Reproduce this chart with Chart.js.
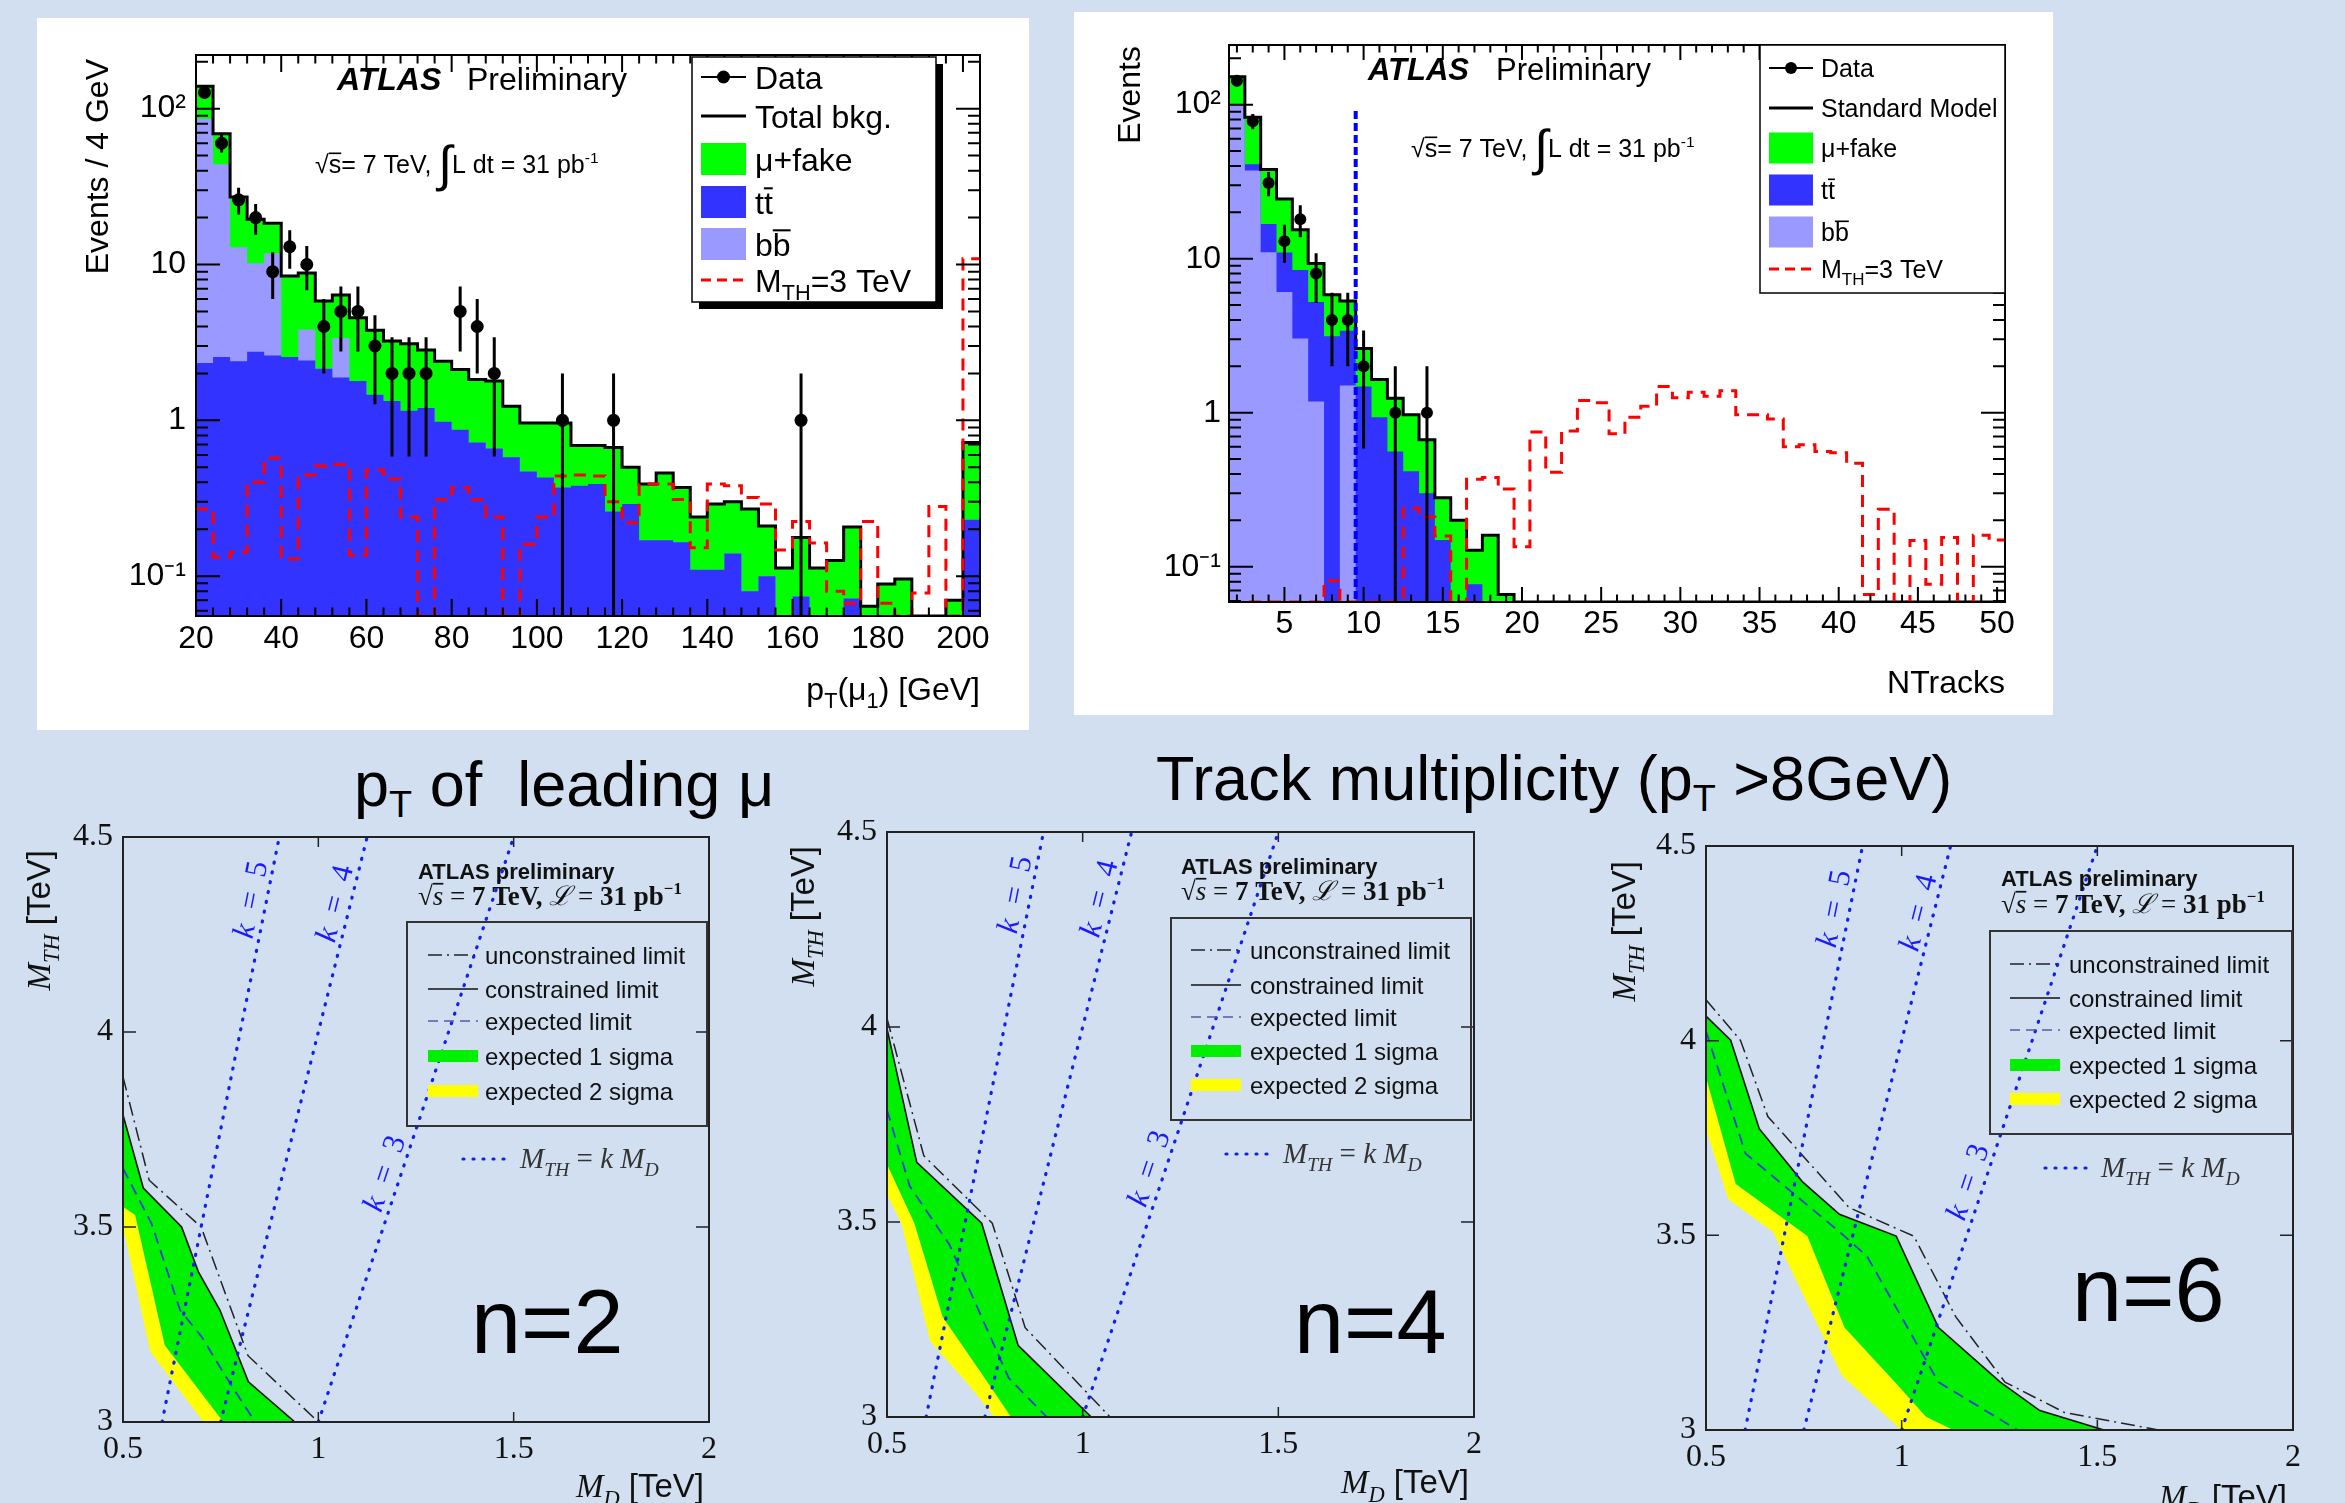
<!DOCTYPE html>
<html>
<head>
<meta charset="utf-8">
<script src="https://cdn.jsdelivr.net/npm/chart.js@4.4.1/dist/chart.umd.min.js"></script>
<style>
  html, body { margin: 0; padding: 0; }
  body { width: 2345px; height: 1503px; background: #d1dff0; position: relative; overflow: hidden;
         font-family: 'Liberation Sans', Arial, sans-serif; }
  canvas { position: absolute; }
  .white { background: #fff; }
  .ttl { position: absolute; line-height: 1; white-space: pre; color: #000; }
  .ttl sub { font-size: 0.6em; position: relative; top: 0.3em; vertical-align: baseline; line-height: 0; }
</style>
</head>
<body>
<canvas id="ptChart" class="white" width="992" height="712" style="left:37px;top:18px"></canvas>
<canvas id="ntrkChart" class="white" width="979" height="703" style="left:1074px;top:12px"></canvas>
<div class="ttl" style="left:354px;top:753px;font-size:63px">p<sub>T</sub> of&nbsp; leading μ</div>
<div class="ttl" style="left:1156px;top:747px;font-size:63px">Track multiplicity (p<sub>T</sub> &gt;8GeV)</div>
<canvas id="limN2" width="780" height="683" style="left:0px;top:820px"></canvas>
<canvas id="limN4" width="740" height="683" style="left:780px;top:820px"></canvas>
<canvas id="limN6" width="775" height="683" style="left:1570px;top:820px"></canvas>
<script>
const SANS = "'Liberation Sans', Arial, sans-serif";
const SERIF = "'Liberation Serif', 'DejaVu Serif', serif";
Chart.defaults.font.family = SANS;
Chart.defaults.color = '#000';

// ---- leading muon pT: 4 GeV bins from 20 GeV, last bin is the overflow
const ptLow = 20, ptBinWidth = 4;
const ptAxisMin = 20, ptAxisMax = 204, ptEventsMin = 0.0555, ptEventsMax = 221;
const ptTicks = [20, 40, 60, 80, 100, 120, 140, 160, 180, 200];
const ptData = [127, 60, 26, 20, 9, 13, 10, 4, 5, 5, 3, 2, 2, 2, 0, 5, 4, 2, 0, 0,
  0, 1, 0, 0, 1, 0, 0, 0, 0, 0, 0, 0, 0, 0, 0, 1, 0, 0, 0, 0, 0, 0, 0, 0, 0, 0];
const ptTtbar = [2.33, 2.55, 2.39, 2.75, 2.61, 2.55, 2.42, 2.14, 1.88, 1.79,
  1.46, 1.33, 1.15, 1.2, 0.98, 0.87, 0.72, 0.66, 0.58, 0.47,
  0.43, 0.37, 0.38, 0.39, 0.26, 0.29, 0.17, 0.17, 0.165, 0.11,
  0.11, 0.14, 0.08, 0.10, 0, 0.074, 0, 0, 0.072, 0,
  0, 0, 0, 0, 0, 0.23];
const ptBbbar = [83.7, 41.5, 10.5, 7.45, 9.2, 0, 1.41, 0, 1.49, 0,
  0, 0, 0, 0, 0, 0, 0, 0, 0, 0, 0, 0, 0, 0, 0, 0, 0, 0, 0, 0,
  0, 0, 0, 0, 0, 0, 0, 0, 0, 0, 0, 0, 0, 0, 0, 0];
const ptFake = [53, 25, 14.2, 9.3, 6.6, 5.9, 5.0, 3.7, 3.0, 2.76,
  2.32, 1.9, 1.95, 1.63, 1.41, 1.25, 1.11, 1.13, 0.65, 0.49,
  0.53, 0.59, 0.31, 0.30, 0.41, 0.21, 0.22, 0.29, 0.205, 0.13,
  0.18, 0.16, 0.19, 0.11, 0.113, 0.103, 0.113, 0.126, 0.135, 0.064,
  0.089, 0.096, 0, 0, 0.07, 0.49];
const ptSignal = [0.27, 0.132, 0.143, 0.40, 0.57, 0.129, 0.445, 0.51, 0.52, 0.136,
  0.48, 0.42, 0.24, 0, 0.31, 0.37, 0.31, 0.24, 0, 0.16,
  0.24, 0.44, 0.445, 0.44, 0.30, 0.22, 0.39, 0.39, 0.31, 0.152,
  0.39, 0.38, 0.32, 0.29, 0.147, 0.224, 0.163, 0.08, 0.067, 0.224,
  0.067, 0, 0.078, 0.28, 0, 10.9];

// ---- track multiplicity: unit bins for NTracks = 2..50
const ntLow = 1.5, ntBinWidth = 1;
const ntAxisMin = 1.5, ntAxisMax = 50.5, ntEventsMin = 0.059, ntEventsMax = 244;
const ntTicks = [5, 10, 15, 20, 25, 30, 35, 40, 45, 50];
const ntData = [143, 78, 31, 13, 18, 8, 4, 4, 2, 0, 1, 0, 1,
  0, 0, 0, 0, 0, 0, 0, 0, 0, 0, 0, 0, 0, 0, 0, 0, 0, 0, 0, 0, 0, 0, 0, 0, 0, 0, 0, 0, 0, 0, 0, 0, 0, 0, 0, 0];
const ntBbbar = [98, 37.4, 11.0, 6.07, 3.03, 1.18, 0, 1.50,
  0, 0, 0, 0, 0, 0, 0, 0, 0, 0, 0, 0, 0, 0, 0, 0, 0, 0, 0, 0, 0, 0, 0, 0, 0, 0, 0, 0, 0, 0, 0, 0, 0, 0, 0, 0, 0, 0, 0, 0, 0];
const ntTtbar = [0, 3.6, 5.8, 4.9, 5.4, 4.06, 3.13, 1.9, 1.48, 0.935, 0.56, 0.416, 0.30, 0.149, 0, 0.077,
  0, 0, 0, 0, 0, 0, 0, 0, 0, 0, 0, 0, 0, 0, 0, 0, 0, 0, 0, 0, 0, 0, 0, 0, 0, 0, 0, 0, 0, 0, 0, 0, 0];
const ntFake = [54, 42, 21.2, 13.4, 7.0, 4.06, 2.71, 1.91, 1.13, 0.705, 0.68, 0.554, 0.367, 0.131, 0.20, 0.051, 0.16, 0.066,
  0, 0, 0, 0, 0, 0, 0, 0, 0, 0, 0, 0, 0, 0, 0, 0, 0, 0, 0, 0, 0, 0, 0, 0, 0, 0, 0, 0, 0, 0, 0];
const ntSignal = [0, 0, 0, 0, 0, 0, 0.081, 0, 0, 0, 0, 0.24, 0.21, 0.158, 0,
  0.37, 0.38, 0.32, 0.135, 0.75, 0.41, 0.76, 1.2, 1.16, 0.73,
  0.935, 1.10, 1.48, 1.25, 1.36, 1.28, 1.39, 0.97, 0.97, 0.91,
  0.60, 0.62, 0.56, 0.55, 0.47, 0.066, 0.236, 0, 0.148, 0.077,
  0.155, 0, 0.16, 0.149];
const ntCut = 9.5, ntCutTop = 91;

const eventTicks = [0.1, 1, 10, 100];
const eventLabels = { 0.1: '10⁻¹', 1: '1', 10: '10', 100: '10²' };

// ---- limits in the (M_D, M_TH) plane, points are [M_D, M_TH] in TeV
const mdMin = 0.5, mdMax = 2, mthMin = 3, mthMax = 4.5;
const mdTicks = [0.5, 1, 1.5, 2], mthTicks = [3, 3.5, 4, 4.5];
const kValues = [5, 4, 3];

const n2Unconstrained = [[0.5, 3.885], [0.567, 3.62], [0.70, 3.50], [0.82, 3.17], [1.0, 3.0]];
const n2Constrained = [[0.5, 3.787], [0.552, 3.60], [0.65, 3.50], [0.693, 3.385], [0.748, 3.287], [0.821, 3.103], [0.94, 3.0]];
const n2Expected = [[0.5, 3.65], [0.573, 3.509], [0.646, 3.287], [0.701, 3.219], [0.761, 3.12], [0.838, 3.0]];
const n2Minus1 = [[0.5, 3.552], [0.531, 3.531], [0.607, 3.197], [0.757, 3.0]];
const n2Minus2 = [[0.5, 3.50], [0.57, 3.18], [0.706, 3.0]];

const n4Unconstrained = [[0.5, 4.022], [0.594, 3.67], [0.769, 3.497], [0.853, 3.229], [1.07, 3.0]];
const n4Constrained = [[0.5, 3.996], [0.576, 3.653], [0.742, 3.497], [0.835, 3.184], [1.022, 3.0]];
const n4Expected = [[0.5, 3.787], [0.558, 3.592], [0.66, 3.441], [0.811, 3.1], [0.908, 3.0]];
const n4Minus1 = [[0.5, 3.648], [0.57, 3.497], [0.642, 3.257], [0.757, 3.089], [0.817, 3.0]];
const n4Minus2 = [[0.5, 3.57], [0.537, 3.497], [0.61, 3.195], [0.703, 3.089], [0.775, 3.0]];

const n6Unconstrained = [[0.5, 4.105], [0.588, 4.001], [0.658, 3.805], [0.866, 3.571], [1.031, 3.498], [1.138, 3.291],
  [1.264, 3.123], [1.416, 3.045], [1.656, 3.0]];
const n6Constrained = [[0.5, 4.063], [0.563, 4.001], [0.636, 3.774], [0.746, 3.638], [0.841, 3.554], [0.986, 3.498],
  [1.094, 3.263], [1.252, 3.123], [1.353, 3.05], [1.517, 3.0]];
const n6Expected = [[0.5, 4.024], [0.601, 3.71], [0.841, 3.509], [0.911, 3.447], [1.094, 3.123], [1.296, 3.0]];
const n6Minus1 = [[0.5, 3.906], [0.576, 3.632], [0.759, 3.498], [0.854, 3.263], [0.993, 3.112], [1.062, 3.034], [1.132, 3.0]];
const n6Minus2 = [[0.5, 3.772], [0.557, 3.593], [0.671, 3.509], [0.847, 3.14], [0.999, 3.0]];

// ================= helpers =================
function steps(low, width, values, floor) {
  const pts = values.map((v, i) => ({ x: low + i * width, y: Math.max(v, floor) }));
  pts.push({ x: low + values.length * width, y: pts[pts.length - 1].y });
  return pts;
}
function centres(low, width, values) {
  return values.map((v, i) => ({ x: low + (i + 0.5) * width, y: v > 0 ? v : null }));
}
function addUp(...series) {
  return series[0].map((_, i) => series.reduce((s, a) => s + a[i], 0));
}
function range(a, b, step) {
  const out = [];
  for (let v = a; v <= b + 1e-9; v += step) out.push(+v.toFixed(3));
  return out;
}
function logMinor(min, max) {
  const out = [];
  for (let d = 0.01; d < 1000; d *= 10)
    for (let m = 2; m <= 9; m++) {
      const v = +(m * d).toPrecision(2);
      if (v >= min && v <= max) out.push(v);
    }
  return out;
}
const xy = pts => pts.map(([x, y]) => ({ x, y }));

// text made of pieces: flags i=italic b=bold _=sub ^=sup L=large o=overline s=serif a=sans
function text(ctx, parts, x, y, opt) {
  const base = opt.size, fam0 = opt.family || SANS;
  const items = parts.map(([t, f]) => {
    let size = base, dy = 0;
    if (f.includes('_')) { size = base * 0.68; dy = base * 0.26; }
    if (f.includes('^')) { size = base * 0.62; dy = -base * 0.42; }
    if (f.includes('L')) { size = base * 2; dy = base * 0.3; }
    const fam = f.includes('a') ? SANS : f.includes('s') ? SERIF : fam0;
    const font = (f.includes('i') ? 'italic ' : '') + (f.includes('b') ? 'bold ' : '') + size + 'px ' + fam;
    ctx.font = font;
    return { t, f, size, dy, font, w: ctx.measureText(t).width };
  });
  const total = items.reduce((s, it) => s + it.w, 0);
  let cx = opt.align === 'right' ? x - total : opt.align === 'center' ? x - total / 2 : x;
  ctx.fillStyle = opt.color || '#000';
  ctx.textAlign = 'left';
  ctx.textBaseline = 'alphabetic';
  items.forEach(it => {
    ctx.font = it.font;
    ctx.fillText(it.t, cx, y + it.dy);
    if (it.f.includes('o')) ctx.fillRect(cx, y + it.dy - it.size * 0.82, it.w, Math.max(1.5, it.size * 0.065));
    cx += it.w;
  });
  return total;
}
function rotated(ctx, parts, x, y, angle, opt) {
  ctx.save();
  ctx.translate(x, y);
  ctx.rotate(angle);
  text(ctx, parts, 0, 0, opt);
  ctx.restore();
}

function axis(o) {
  return {
    type: o.type || 'linear', min: o.min, max: o.max,
    grid: { display: false, drawTicks: false }, border: { display: false },
    afterFit: s => {
      if (o.dir === 'x') s.height = o.size; else s.width = o.size;
      s.paddingLeft = s.paddingRight = s.paddingTop = s.paddingBottom = 0;
    },
    afterBuildTicks: s => { s.ticks = o.ticks.map(v => ({ value: v })); },
    ticks: { autoSkip: false, maxRotation: 0, minRotation: 0, padding: o.pad, color: o.color || '#000',
             font: o.font, callback: o.label || (v => String(v)) }
  };
}
function baseOptions(m, xs, ys) {
  return {
    responsive: false, animation: false, devicePixelRatio: 1, events: [],
    layout: { padding: { left: 0, top: m.top, right: m.right, bottom: 0 } },
    plugins: { legend: { display: false }, tooltip: { enabled: false } },
    elements: { point: { radius: 0 }, line: { tension: 0 } },
    scales: { x: xs, y: ys }
  };
}

// frame with inward ticks on all four sides
function frameTicks(o) {
  return {
    id: 'frameTicks',
    afterDatasetsDraw(chart) {
      const { ctx, chartArea: a, scales: { x, y } } = chart;
      ctx.save();
      ctx.strokeStyle = o.color;
      ctx.lineWidth = o.width;
      ctx.beginPath();
      const vx = (vals, len) => vals.forEach(v => {
        const p = x.getPixelForValue(v);
        ctx.moveTo(p, a.bottom); ctx.lineTo(p, a.bottom - len);
        ctx.moveTo(p, a.top); ctx.lineTo(p, a.top + len);
      });
      const hy = (vals, len) => vals.forEach(v => {
        const p = y.getPixelForValue(v);
        ctx.moveTo(a.left, p); ctx.lineTo(a.left + len, p);
        ctx.moveTo(a.right, p); ctx.lineTo(a.right - len, p);
      });
      vx(o.xMajor, o.xLen); vx(o.xMinor || [], o.xLen / 2);
      hy(o.yMajor, o.yLen); hy(o.yMinor || [], o.yLen / 2);
      ctx.stroke();
      ctx.lineWidth = o.frameWidth;
      ctx.strokeRect(a.left, a.top, a.right - a.left, a.bottom - a.top);
      ctx.restore();
    }
  };
}

// sqrt(N) bars on the data points
const errorBars = {
  id: 'errorBars',
  afterDatasetsDraw(chart) {
    const { ctx, chartArea: a, scales: { y } } = chart;
    chart.data.datasets.forEach((ds, i) => {
      if (!ds.errorBars) return;
      const meta = chart.getDatasetMeta(i);
      ctx.save();
      ctx.beginPath();
      ctx.rect(a.left, a.top, a.right - a.left, a.bottom - a.top);
      ctx.clip();
      ctx.strokeStyle = '#000';
      ctx.lineWidth = 3;
      ctx.beginPath();
      ds.data.forEach((pt, j) => {
        if (pt.y == null) return;
        const err = Math.sqrt(pt.y);
        const px = meta.data[j].x;
        ctx.moveTo(px, y.getPixelForValue(Math.max(pt.y - err, y.min)));
        ctx.lineTo(px, y.getPixelForValue(pt.y + err));
      });
      ctx.stroke();
      ctx.restore();
    });
  }
};

function overlay(draw) {
  return { id: 'overlay', afterDraw(chart) { chart.ctx.save(); draw(chart.ctx, chart); chart.ctx.restore(); } };
}

function histLegend(ctx, o) {
  const [bx, by, bw, bh] = o.box;
  if (o.shadow) { ctx.fillStyle = '#000'; ctx.fillRect(bx + o.shadow, by + o.shadow, bw, bh); }
  ctx.fillStyle = '#fff'; ctx.fillRect(bx, by, bw, bh);
  ctx.strokeStyle = '#000'; ctx.lineWidth = 1.5; ctx.strokeRect(bx, by, bw, bh);
  const [x1, x2] = o.sx, r = o.rows;
  ctx.lineWidth = 2;
  ctx.beginPath(); ctx.moveTo(x1, r[0]); ctx.lineTo(x2, r[0]); ctx.stroke();
  ctx.fillStyle = '#000';
  ctx.beginPath(); ctx.arc((x1 + x2) / 2, r[0], o.dot, 0, 2 * Math.PI); ctx.fill();
  ctx.lineWidth = 3;
  ctx.beginPath(); ctx.moveTo(x1, r[1]); ctx.lineTo(x2, r[1]); ctx.stroke();
  [['#00ff00', r[2]], ['#3333ff', r[3]], ['#9999ff', r[4]]].forEach(([c, cy]) => {
    ctx.fillStyle = c; ctx.fillRect(x1, cy - o.boxH / 2, x2 - x1, o.boxH);
  });
  ctx.strokeStyle = '#ff0000'; ctx.setLineDash([10, 6]);
  ctx.beginPath(); ctx.moveTo(x1, r[5]); ctx.lineTo(x2, r[5]); ctx.stroke();
  ctx.setLineDash([]);
  const labels = [[['Data', '']], [[o.bkgLabel, '']], [['μ+fake', '']], [['t', ''], ['t', 'o']],
    [['b', ''], ['b', 'o']], [['M', ''], ['TH', '_'], ['=3 TeV', '']]];
  labels.forEach((p, i) => text(ctx, p, o.tx, r[i] + o.size * 0.36, { size: o.size }));
}

// ================= pT of the leading muon =================
const ptTtBb = addUp(ptTtbar, ptBbbar);
const ptTotal = addUp(ptTtbar, ptBbbar, ptFake);
const noLine = 'rgba(0,0,0,0)';

new Chart(document.getElementById('ptChart'), {
  type: 'line',
  data: {
    datasets: [
      { data: centres(ptLow, ptBinWidth, ptData), showLine: false, pointRadius: 6.5, pointBackgroundColor: '#000',
        pointBorderWidth: 0, errorBars: true, order: 0 },
      { data: steps(ptLow, ptBinWidth, ptSignal, ptEventsMin), stepped: true, borderColor: '#ff0000', borderWidth: 3,
        borderDash: [12, 8], fill: false, order: 1 },
      { data: steps(ptLow, ptBinWidth, ptTotal, ptEventsMin), stepped: true, borderColor: '#000', borderWidth: 3,
        fill: false, order: 2 },
      { data: steps(ptLow, ptBinWidth, ptTtbar, ptEventsMin), stepped: true, borderColor: noLine,
        backgroundColor: '#3333ff', fill: 'start', order: 3 },
      { data: steps(ptLow, ptBinWidth, ptTtBb, ptEventsMin), stepped: true, borderColor: noLine,
        backgroundColor: '#9999ff', fill: 'start', order: 4 },
      { data: steps(ptLow, ptBinWidth, ptTotal, ptEventsMin), stepped: true, borderColor: noLine,
        backgroundColor: '#00ff00', fill: 'start', order: 5 }
    ]
  },
  options: baseOptions({ top: 37, right: 49 },
    axis({ dir: 'x', min: ptAxisMin, max: ptAxisMax, ticks: ptTicks, size: 114, pad: 4, font: { size: 32 } }),
    axis({ dir: 'y', type: 'logarithmic', min: ptEventsMin, max: ptEventsMax, ticks: eventTicks, size: 159, pad: 10,
           font: { size: 32 }, label: v => eventLabels[v] })),
  plugins: [
    frameTicks({ color: '#000', width: 2, frameWidth: 2, xMajor: ptTicks, xMinor: range(20, 204, 4), xLen: 17,
                 yMajor: eventTicks, yMinor: logMinor(ptEventsMin, ptEventsMax), yLen: 24 }),
    errorBars,
    overlay(ctx => {
      text(ctx, [['ATLAS', 'bi']], 300, 72, { size: 32 });
      text(ctx, [['Preliminary', '']], 430, 72, { size: 32 });
      text(ctx, [['√', ''], ['s', 'o'], ['= 7 TeV, ', ''], ['∫', 'L'], ['L dt = 31 pb', ''], ['-1', '^']], 278, 155, { size: 25 });
      rotated(ctx, [['Events / 4 GeV', '']], 71, 41, -Math.PI / 2, { size: 32, align: 'right' });
      text(ctx, [['p', ''], ['T', '_'], ['(μ', ''], ['1', '_'], [') [GeV]', '']], 943, 682, { size: 32, align: 'right' });
      histLegend(ctx, { box: [655, 39, 244, 245], shadow: 7, sx: [664, 709], tx: 718,
        rows: [59, 98, 141, 184, 226, 262], size: 32, dot: 6.5, boxH: 32, bkgLabel: 'Total bkg.' });
    })
  ]
});

// ================= track multiplicity =================
const ntBbTt = addUp(ntBbbar, ntTtbar);
const ntTotal = addUp(ntBbbar, ntTtbar, ntFake);

new Chart(document.getElementById('ntrkChart'), {
  type: 'line',
  data: {
    datasets: [
      { data: centres(ntLow, ntBinWidth, ntData), showLine: false, pointRadius: 6, pointBackgroundColor: '#000',
        pointBorderWidth: 0, errorBars: true, order: 0 },
      { data: [{ x: ntCut, y: ntCutTop }, { x: ntCut, y: ntEventsMin }], borderColor: '#0000ff', borderWidth: 4,
        borderDash: [8, 4], fill: false, order: 1 },
      { data: steps(ntLow, ntBinWidth, ntSignal, ntEventsMin), stepped: true, borderColor: '#ff0000', borderWidth: 3,
        borderDash: [12, 8], fill: false, order: 2 },
      { data: steps(ntLow, ntBinWidth, ntTotal, ntEventsMin), stepped: true, borderColor: '#000', borderWidth: 3,
        fill: false, order: 3 },
      { data: steps(ntLow, ntBinWidth, ntBbbar, ntEventsMin), stepped: true, borderColor: noLine,
        backgroundColor: '#9999ff', fill: 'start', order: 4 },
      { data: steps(ntLow, ntBinWidth, ntBbTt, ntEventsMin), stepped: true, borderColor: noLine,
        backgroundColor: '#3333ff', fill: 'start', order: 5 },
      { data: steps(ntLow, ntBinWidth, ntTotal, ntEventsMin), stepped: true, borderColor: noLine,
        backgroundColor: '#00ff00', fill: 'start', order: 6 }
    ]
  },
  options: baseOptions({ top: 33, right: 48 },
    axis({ dir: 'x', min: ntAxisMin, max: ntAxisMax, ticks: ntTicks, size: 113, pad: 3, font: { size: 32 } }),
    axis({ dir: 'y', type: 'logarithmic', min: ntEventsMin, max: ntEventsMax, ticks: eventTicks, size: 155, pad: 8,
           font: { size: 32 }, label: v => eventLabels[v] })),
  plugins: [
    frameTicks({ color: '#000', width: 2, frameWidth: 2, xMajor: ntTicks, xMinor: range(2, 50, 1), xLen: 15,
                 yMajor: eventTicks, yMinor: logMinor(ntEventsMin, ntEventsMax), yLen: 24 }),
    errorBars,
    overlay(ctx => {
      text(ctx, [['ATLAS', 'bi']], 294, 68, { size: 31 });
      text(ctx, [['Preliminary', '']], 422, 68, { size: 31 });
      text(ctx, [['√', ''], ['s', 'o'], ['= 7 TeV, ', ''], ['∫', 'L'], ['L dt = 31 pb', ''], ['-1', '^']], 337, 145, { size: 25 });
      rotated(ctx, [['Events', '']], 66, 34, -Math.PI / 2, { size: 32, align: 'right' });
      text(ctx, [['NTracks', '']], 931, 681, { size: 32, align: 'right' });
      histLegend(ctx, { box: [686, 33, 245, 248], shadow: 0, sx: [695, 739], tx: 747,
        rows: [56, 96, 136, 178, 220, 257], size: 25, dot: 6, boxH: 31, bkgLabel: 'Standard Model' });
    })
  ]
});

// ================= limit planes =================
const kLabelAt = { 5: [0.825, 4.34], 4: [1.04, 4.33], 3: [1.167, 3.638] };

function limitNotes(ctx, chart, L) {
  const { x, y } = chart.scales;
  kValues.forEach(k => {
    const ang = Math.atan2(y.getPixelForValue(mthMax) - y.getPixelForValue(mthMin),
                           x.getPixelForValue(mthMax / k) - x.getPixelForValue(mthMin / k));
    const [mx, my] = kLabelAt[k];
    ctx.save();
    ctx.translate(x.getPixelForValue(mx), y.getPixelForValue(my));
    ctx.rotate(ang);
    text(ctx, [['k', 'i'], ['  =  ', ''], [String(k), '']], 0, 31 * 0.33, { size: 31, family: SERIF, color: '#1a1aff', align: 'center' });
    ctx.restore();
  });
  text(ctx, [['ATLAS preliminary', 'b']], L.atlas[0], L.atlas[1], { size: 22, color: '#111' });
  text(ctx, [['√', ''], ['s', 'io'], [' = ', ''], ['7 TeV, ', 'b'], ['ℒ', 'i'], [' = ', ''], ['31 pb', 'b'], ['−1', 'b^']],
       L.lumi[0], L.lumi[1], { size: 27, family: SERIF, color: '#111' });

  const [bx, by, bw, bh] = L.box;
  ctx.strokeStyle = '#333'; ctx.lineWidth = 2; ctx.strokeRect(bx, by, bw, bh);
  const [x1, x2] = L.sx;
  const sample = (cy, color, width, dash) => {
    ctx.strokeStyle = color; ctx.lineWidth = width; ctx.setLineDash(dash);
    ctx.beginPath(); ctx.moveTo(x1, cy); ctx.lineTo(x2, cy); ctx.stroke();
  };
  sample(L.rows[0], '#222', 1.5, [14, 5, 2, 5]);
  sample(L.rows[1], '#111', 1.5, []);
  sample(L.rows[2], '#5a5aa8', 1.5, [10, 6]);
  ctx.setLineDash([]);
  ctx.fillStyle = '#00f000'; ctx.fillRect(x1, L.rows[3] - 6, x2 - x1, 12);
  ctx.fillStyle = '#ffff00'; ctx.fillRect(x1, L.rows[4] - 6, x2 - x1, 12);
  ['unconstrained limit', 'constrained limit', 'expected limit', 'expected 1 sigma', 'expected 2 sigma']
    .forEach((s, i) => text(ctx, [[s, '']], L.tx, L.rows[i] + 8.5, { size: 24, color: '#111' }));

  const [k1, k2, ky, kt] = L.kLeg;
  ctx.strokeStyle = '#1020f0'; ctx.lineWidth = 3.2; ctx.lineCap = 'round'; ctx.setLineDash([1, 9]);
  ctx.beginPath(); ctx.moveTo(k1, ky); ctx.lineTo(k2, ky); ctx.stroke();
  ctx.setLineDash([]); ctx.lineCap = 'butt';
  text(ctx, [['M', 'i'], ['TH', 'i_'], [' = ', ''], ['k', 'i'], [' ', ''], ['M', 'i'], ['D', 'i_']], kt, ky + 9,
       { size: 29, family: SERIF, color: '#333' });

  text(ctx, [[L.n, '']], L.nPos[0], L.nPos[1], { size: 90 });
  rotated(ctx, [['M', 'i'], ['TH', 'i_'], [' [TeV]', 'a']], L.yTitle[0], L.yTitle[1], -Math.PI / 2,
          { size: 33, family: SERIF, align: 'right', color: '#111' });
  text(ctx, [['M', 'i'], ['D', 'i_'], [' [TeV]', 'a']], L.xTitle[0], L.xTitle[1], { size: 33, family: SERIF, align: 'right', color: '#111' });
}

function limitChart(id, m, c, L) {
  const datasets = [
    { data: xy([...c.minus1, ...c.minus2.slice().reverse()]), fill: 'shape', backgroundColor: '#ffff00', borderColor: noLine, order: 10 },
    { data: xy([...c.constrained, ...c.minus1.slice().reverse()]), fill: 'shape', backgroundColor: '#00f000', borderColor: noLine, order: 9 },
    { data: xy(c.unconstrained), borderColor: '#222', borderWidth: 1.5, borderDash: [14, 5, 2, 5], fill: false, order: 4 },
    { data: xy(c.constrained), borderColor: '#111', borderWidth: 1.6, fill: false, order: 3 },
    { data: xy(c.expected), borderColor: '#2a3fd6', borderWidth: 1.8, borderDash: [11, 7], fill: false, order: 2 },
    ...kValues.map(k => ({
      data: [{ x: mthMin / k, y: mthMin }, { x: mthMax / k, y: mthMax }],
      borderColor: '#1020f0', borderWidth: 3.2, borderDash: [1, 9], borderCapStyle: 'round', fill: false, order: 1
    }))
  ];
  new Chart(document.getElementById(id), {
    type: 'line',
    data: { datasets },
    options: baseOptions({ top: m.top, right: m.right },
      axis({ dir: 'x', min: mdMin, max: mdMax, ticks: mdTicks, size: m.bottom, pad: 8, color: '#111',
             font: { family: SERIF, size: 32 } }),
      axis({ dir: 'y', min: mthMin, max: mthMax, ticks: mthTicks, size: m.left, pad: 10, color: '#111',
             font: { family: SERIF, size: 32 } })),
    plugins: [
      frameTicks({ color: '#222', width: 1.5, frameWidth: 2, xMajor: [1, 1.5], xLen: 10, yMajor: [3.5, 4], yLen: 13 }),
      overlay((ctx, chart) => limitNotes(ctx, chart, L))
    ]
  });
}

limitChart('limN2', { left: 123, top: 17, right: 71, bottom: 81 },
  { unconstrained: n2Unconstrained, constrained: n2Constrained, expected: n2Expected, minus1: n2Minus1, minus2: n2Minus2 },
  { atlas: [418, 59], lumi: [418, 85], box: [407, 102, 300, 204], rows: [135, 169, 201, 236, 271],
    sx: [428, 478], tx: 485, kLeg: [463, 505, 339, 520], n: 'n=2', nPos: [471, 533],
    yTitle: [50, 30], xTitle: [704, 677] });

limitChart('limN4', { left: 107, top: 12, right: 46, bottom: 86 },
  { unconstrained: n4Unconstrained, constrained: n4Constrained, expected: n4Expected, minus1: n4Minus1, minus2: n4Minus2 },
  { atlas: [401, 54], lumi: [401, 80], box: [391, 98, 300, 202], rows: [130, 165, 197, 231, 265],
    sx: [411, 461], tx: 470, kLeg: [446, 488, 334, 503], n: 'n=4', nPos: [514, 533],
    yTitle: [34, 26], xTitle: [689, 673] });

limitChart('limN6', { left: 136, top: 26, right: 52, bottom: 73 },
  { unconstrained: n6Unconstrained, constrained: n6Constrained, expected: n6Expected, minus1: n6Minus1, minus2: n6Minus2 },
  { atlas: [431, 66], lumi: [431, 93], box: [420, 111, 302, 203], rows: [144, 178, 210, 245, 279],
    sx: [440, 490], tx: 499, kLeg: [475, 518, 348, 531], n: 'n=6', nPos: [502, 501],
    yTitle: [65, 41], xTitle: [717, 688] });
</script>
</body>
</html>
